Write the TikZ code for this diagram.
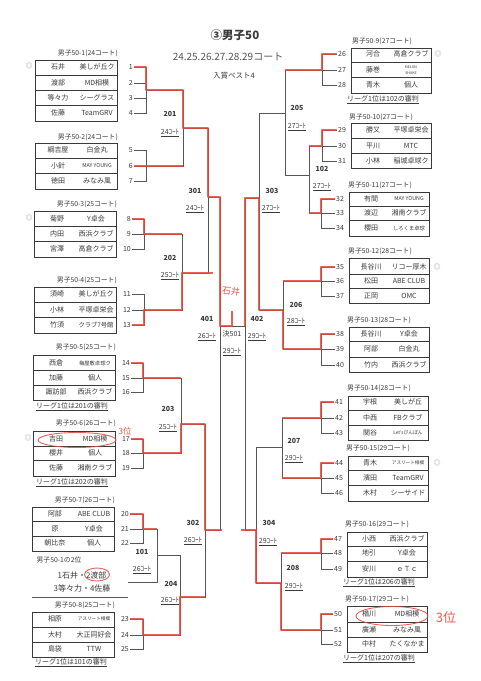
\documentclass[tikz,border=0pt]{standalone}
\usepackage{fontspec}
\setmainfont{Noto Sans CJK JP}
\usetikzlibrary{calc}
\definecolor{ink}{HTML}{3A3A3A}
\definecolor{lnc}{HTML}{555555}
\definecolor{pen}{HTML}{E5483A}
\definecolor{faint}{HTML}{9A9A9A}
\tikzset{
  lnk/.style={draw=lnc, line width=0.8pt},
  boxl/.style={draw=ink, line width=0.9pt},
  rowsep/.style={draw=ink, line width=0.6pt},
  nm/.style={font=\fontsize{7}{8}\selectfont, text=ink, inner sep=0pt},
  cl/.style={font=\fontsize{7}{8}\selectfont, text=ink, inner sep=0pt},
  numL/.style={font=\fontsize{7}{8}\selectfont, text=ink, anchor=east, inner sep=1pt},
  numR/.style={font=\fontsize{7}{8}\selectfont, text=ink, anchor=west, inner sep=1pt},
  glabL/.style={font=\fontsize{6.8}{8}\selectfont, text=ink, inner sep=0pt, anchor=east},
  glabR/.style={font=\fontsize{6.8}{8}\selectfont, text=ink, inner sep=0pt, anchor=west},
  mlab/.style={font=\bfseries\fontsize{7}{8}\selectfont, text=ink, inner sep=0pt},
  court/.style={font=\fontsize{7}{8}\selectfont, text=ink, inner sep=0pt},
  capt/.style={font=\fontsize{7}{8}\selectfont, text=ink, inner sep=0pt},
  dmark/.style={font=\fontsize{7}{8}\selectfont, text=faint, inner sep=0pt},
  win/.style={draw=pen, line width=1.2pt, opacity=0.85, line join=round},
  penc/.style={draw=pen, line width=0.9pt, opacity=0.85},
  pent/.style={text=pen, inner sep=0pt, opacity=0.9}
}
\newcommand\pRowL[6]{%
  \node[nm] (L#1n) at ({#5+23},#2) {#3};
  \node[cl] (L#1c) at ({#5+62},#2) {#4};
  \node[numL] (L#1) at (#6,#2) {#1};}
\newcommand\pRowR[6]{%
  \node[nm] (R#1n) at ({#5+22},#2) {#3};
  \node[cl] (R#1c) at ({#5+60},#2) {#4};
  \node[numR] (R#1) at (#6,#2) {#1};}
\newcommand\ct[1]{\underline{#1ｺｰﾄ}}
\begin{document}
\begin{tikzpicture}[x=1pt,y=-1pt]
\fill[white] (0,0) rectangle (480,681);
\path[use as bounding box] (0,0) rectangle (480,681);

% ---------- titles
\node[font=\bfseries\fontsize{11.5}{13}\selectfont, text=ink] (title) at (235,35) {③男子50};
\node[font=\fontsize{10}{12}\selectfont, text=lnc] (sub) at (228,57) {24.25.26.27.28.29コート};
\node[font=\fontsize{7.5}{9}\selectfont, text=ink] (best) at (234,76) {入賞ベスト4};

% ---------- left groups
\node[glabL] (G1lab) at (118,53) {男子50-1(24コート)};
\draw[boxl] (35,60) rectangle (117,121);
\draw[rowsep] (35,75) -- (117,75) (35,90.5) -- (117,90.5) (35,105.5) -- (117,105.5);
\pRowL{1}{67}{石井}{美しが丘ク}{35}{134}
\pRowL{2}{83}{渡部}{MD相模}{35}{134}
\pRowL{3}{98}{等々力}{シーグラス}{35}{134}
\pRowL{4}{113}{佐藤}{TeamGRV}{35}{134}
\node[dmark] (d1) at (29,66) {◎};

\node[glabL] (G2lab) at (118,137) {男子50-2(24コート)};
\draw[boxl] (35,143) rectangle (117,189);
\draw[rowsep] (35,158) -- (117,158) (35,173.5) -- (117,173.5);
\pRowL{5}{150}{綱吉屋}{白金丸}{35}{134}
\pRowL{6}{166}{小針}{{\fontsize{5.3}{6}\selectfont MAY YOUNG}}{35}{134}
\pRowL{7}{181}{徳田}{みなみ風}{35}{134}

\node[glabL] (G3lab) at (117,204) {男子50-3(25コート)};
\draw[boxl] (34,211) rectangle (116,257);
\draw[rowsep] (34,226.5) -- (116,226.5) (34,241.5) -- (116,241.5);
\pRowL{8}{219}{菊野}{Y卓会}{34}{132}
\pRowL{9}{234}{内田}{西浜クラブ}{34}{132}
\pRowL{10}{249}{宮澤}{高倉クラブ}{34}{132}
\node[dmark] (d3) at (29,218) {◎};

\node[glabL] (G4lab) at (117,280) {男子50-4(25コート)};
\draw[boxl] (34,287) rectangle (116,333);
\draw[rowsep] (34,302) -- (116,302) (34,317.5) -- (116,317.5);
\pRowL{11}{294}{須崎}{美しが丘ク}{34}{132}
\pRowL{12}{310}{小林}{平塚卓栄会}{34}{132}
\pRowL{13}{325}{竹須}{{\fontsize{6.3}{7}\selectfont クラブ7号館}}{34}{132}

\node[glabL] (G5lab) at (116,347) {男子50-5(25コート)};
\draw[boxl] (33,355) rectangle (115,400);
\draw[rowsep] (33,370.5) -- (115,370.5) (33,385) -- (115,385);
\pRowL{14}{363}{西倉}{{\fontsize{5.3}{6}\selectfont 梅屋敷卓球ク}}{33}{131}
\pRowL{15}{378}{加藤}{個人}{33}{131}
\pRowL{16}{392}{諏訪部}{西浜クラブ}{33}{131}
\node[capt] (c5) at (72,407) {\underline{リーグ1位は201の審判}};

\node[glabL] (G6lab) at (116,423) {男子50-6(26コート)};
\draw[boxl] (33,431) rectangle (115,476);
\draw[rowsep] (33,446) -- (115,446) (33,460.5) -- (115,460.5);
\pRowL{17}{439}{吉田}{MD相模}{33}{131}
\pRowL{18}{453}{櫻井}{個人}{33}{131}
\pRowL{19}{468}{佐藤}{湘南クラブ}{33}{131}
\node[capt] (c6) at (72,483) {\underline{リーグ1位は202の審判}};
\node[dmark] (d6) at (28,438) {◎};

\node[glabL] (G7lab) at (115,500) {男子50-7(26コート)};
\draw[boxl] (32,507) rectangle (114,551);
\draw[rowsep] (32,521.5) -- (114,521.5) (32,536) -- (114,536);
\pRowL{20}{514}{阿部}{ABE CLUB}{32}{130}
\pRowL{21}{529}{原}{Y卓会}{32}{130}
\pRowL{22}{543}{朝比奈}{個人}{32}{130}

\node[capt, font=\fontsize{6.8}{8}\selectfont] (sec1) at (59,560) {男子50-1の2位};
\node[capt, font=\fontsize{8}{9}\selectfont] (sec2) at (82,575) {1石井・2渡部};
\node[capt, font=\fontsize{8}{9}\selectfont] (sec3) at (82,588) {3等々力・4佐藤};
\draw[lnk] (32,597) -- (128,597);

\node[glabL] (G8lab) at (115,605) {男子50-8(25コート)};
\draw[boxl] (32,612) rectangle (114,657);
\draw[rowsep] (32,627) -- (114,627) (32,642) -- (114,642);
\pRowL{23}{619}{相原}{{\fontsize{4.6}{5}\selectfont アスリート相模}}{32}{130}
\pRowL{24}{635}{大村}{大正同好会}{32}{130}
\pRowL{25}{649}{島袋}{TTW}{32}{130}
\node[capt] (c8) at (71,663) {\underline{リーグ1位は101の審判}};

% ---------- right groups
\node[glabR] (G9lab) at (352,41) {男子50-9(27コート)};
\draw[boxl] (351,48) rectangle (431,93);
\draw[rowsep] (351,62) -- (431,62) (351,77.5) -- (431,77.5);
\pRowR{26}{54}{河合}{高倉クラブ}{351}{337}
\pRowR{27}{70}{藤巻}{{\fontsize{3.6}{6.5}\selectfont\begin{tabular}{@{}c@{}}MELON\\[-1pt]SHAKE\end{tabular}}}{351}{337}
\pRowR{28}{85}{青木}{個人}{351}{337}
\node[dmark] (d9) at (438,54) {◎};
\node[capt] (c9) at (383,100) {\underline{リーグ1位は102の審判}};

\node[glabR] (G10lab) at (349,117) {男子50-10(27コート)};
\draw[boxl] (351,123) rectangle (431,168);
\draw[rowsep] (351,138) -- (431,138) (351,153.5) -- (431,153.5);
\pRowR{29}{130}{勝又}{平塚卓栄会}{351}{337}
\pRowR{30}{146}{平川}{MTC}{351}{337}
\pRowR{31}{161}{小林}{稲城卓球ク}{351}{337}

\node[glabR] (G11lab) at (348,185) {男子50-11(27コート)};
\draw[boxl] (349,192) rectangle (429,236);
\draw[rowsep] (349,206) -- (429,206) (349,220.5) -- (429,220.5);
\pRowR{32}{199}{有間}{{\fontsize{5.3}{6}\selectfont MAY YOUNG}}{349}{335}
\pRowR{33}{213}{渡辺}{湘南クラブ}{349}{335}
\pRowR{34}{228}{櫻田}{{\fontsize{5.3}{6}\selectfont しろくま卓球}}{349}{335}

\node[glabR] (G12lab) at (348,251) {男子50-12(28コート)};
\draw[boxl] (349,258) rectangle (429,303);
\draw[rowsep] (349,274) -- (429,274) (349,288.5) -- (429,288.5);
\pRowR{35}{267}{長谷川}{リコー厚木}{349}{335}
\pRowR{36}{281}{松田}{ABE CLUB}{349}{335}
\pRowR{37}{296}{正岡}{OMC}{349}{335}
\node[dmark] (d12) at (437,267) {◎};

\node[glabR] (G13lab) at (347,320) {男子50-13(28コート)};
\draw[boxl] (349,327) rectangle (429,372);
\draw[rowsep] (349,341.5) -- (429,341.5) (349,357) -- (429,357);
\pRowR{38}{334}{長谷川}{Y卓会}{349}{335}
\pRowR{39}{349}{阿部}{白金丸}{349}{335}
\pRowR{40}{365}{竹内}{西浜クラブ}{349}{335}

\node[glabR] (G14lab) at (347,388) {男子50-14(28コート)};
\draw[boxl] (348,396) rectangle (428,440);
\draw[rowsep] (348,410) -- (428,410) (348,425.5) -- (428,425.5);
\pRowR{41}{402}{宇根}{美しが丘}{348}{334}
\pRowR{42}{418}{中西}{FBクラブ}{348}{334}
\pRowR{43}{433}{関谷}{{\fontsize{4.8}{6}\selectfont Let'sぴんぽん}}{348}{334}

\node[glabR] (G15lab) at (346,448) {男子50-15(29コート)};
\draw[boxl] (348,456) rectangle (428,501);
\draw[rowsep] (348,470.5) -- (428,470.5) (348,485.5) -- (428,485.5);
\pRowR{44}{463}{青木}{{\fontsize{4.6}{5}\selectfont アスリート相模}}{348}{334}
\pRowR{45}{478}{濱田}{TeamGRV}{348}{334}
\pRowR{46}{493}{木村}{シーサイド}{348}{334}
\node[dmark] (d15) at (437,463) {◎};

\node[glabR] (G16lab) at (345,524) {男子50-16(29コート)};
\draw[boxl] (347,532) rectangle (427,577);
\draw[rowsep] (347,546) -- (427,546) (347,561) -- (427,561);
\pRowR{47}{539}{小西}{西浜クラブ}{347}{333}
\pRowR{48}{553}{地引}{Y卓会}{347}{333}
\pRowR{49}{569}{安川}{ｅＴｃ}{347}{333}
\node[capt] (c16) at (379,583) {\underline{リーグ1位は206の審判}};

\node[glabR] (G17lab) at (345,599) {男子50-17(29コート)};
\draw[boxl] (347,606) rectangle (427,652);
\draw[rowsep] (347,622) -- (427,622) (347,637) -- (427,637);
\pRowR{50}{614}{楢川}{MD相模}{347}{333}
\pRowR{51}{630}{廣瀬}{みなみ風}{347}{333}
\pRowR{52}{644}{中村}{たくなかま}{347}{333}
\node[capt] (c17) at (379,659) {\underline{リーグ1位は207の審判}};

% ---------- bracket coordinates
\coordinate (G1) at (146,90);  \coordinate (G2) at (146,166);
\coordinate (G3) at (144,234); \coordinate (G4) at (144,310);
\coordinate (G5) at (143,378); \coordinate (G6) at (143,453);
\coordinate (G7) at (143,529); \coordinate (G8) at (143,635);
\coordinate (S2) at (128,582);
\coordinate (M201) at (183,128); \coordinate (M202) at (182,273);
\coordinate (M301) at (208,197); \coordinate (M203) at (181,424);
\coordinate (M101) at (157,555); \coordinate (M204) at (180,597);
\coordinate (M302) at (205,530); \coordinate (M401) at (220,326);
\coordinate (G9) at (322,70);   \coordinate (G10) at (322,146);
\coordinate (G11) at (321,213); \coordinate (G12) at (321,281);
\coordinate (G13) at (321,349); \coordinate (G14) at (321,418);
\coordinate (G15) at (321,478); \coordinate (G16) at (321,553);
\coordinate (G17) at (321,630);
\coordinate (M102) at (309,175); \coordinate (M205) at (285,113);
\coordinate (M206) at (283,310); \coordinate (M303) at (259,198);
\coordinate (M207) at (282,447); \coordinate (M208) at (281,583);
\coordinate (M304) at (256,530); \coordinate (M402) at (245,326);
\coordinate (champ) at (232,311);

% ---------- first round (league) brackets
\draw[lnk] (L1.east) -- (L1.east -| G1) -- (L4.east -| G1) -- (L4.east);
\draw[lnk] (L2.east) -- (L2.east -| G1) (L3.east) -- (L3.east -| G1);
\draw[lnk] (L5.east) -- (L5.east -| G2) -- (L7.east -| G2) -- (L7.east) (L6.east) -- (L6.east -| G2);
\draw[lnk] (L8.east) -- (L8.east -| G3) -- (L10.east -| G3) -- (L10.east) (L9.east) -- (L9.east -| G3);
\draw[lnk] (L11.east) -- (L11.east -| G4) -- (L13.east -| G4) -- (L13.east) (L12.east) -- (L12.east -| G4);
\draw[lnk] (L14.east) -- (L14.east -| G5) -- (L16.east -| G5) -- (L16.east) (L15.east) -- (L15.east -| G5);
\draw[lnk] (L17.east) -- (L17.east -| G6) -- (L19.east -| G6) -- (L19.east) (L18.east) -- (L18.east -| G6);
\draw[lnk] (L20.east) -- (L20.east -| G7) -- (L22.east -| G7) -- (L22.east) (L21.east) -- (L21.east -| G7);
\draw[lnk] (L23.east) -- (L23.east -| G8) -- (L25.east -| G8) -- (L25.east) (L24.east) -- (L24.east -| G8);

\draw[lnk] (R26.west) -- (R26.west -| G9) -- (R28.west -| G9) -- (R28.west) (R27.west) -- (R27.west -| G9);
\draw[lnk] (R29.west) -- (R29.west -| G10) -- (R31.west -| G10) -- (R31.west) (R30.west) -- (R30.west -| G10);
\draw[lnk] (R32.west) -- (R32.west -| G11) -- (R34.west -| G11) -- (R34.west) (R33.west) -- (R33.west -| G11);
\draw[lnk] (R35.west) -- (R35.west -| G12) -- (R37.west -| G12) -- (R37.west) (R36.west) -- (R36.west -| G12);
\draw[lnk] (R38.west) -- (R38.west -| G13) -- (R40.west -| G13) -- (R40.west) (R39.west) -- (R39.west -| G13);
\draw[lnk] (R41.west) -- (R41.west -| G14) -- (R43.west -| G14) -- (R43.west) (R42.west) -- (R42.west -| G14);
\draw[lnk] (R44.west) -- (R44.west -| G15) -- (R46.west -| G15) -- (R46.west) (R45.west) -- (R45.west -| G15);
\draw[lnk] (R47.west) -- (R47.west -| G16) -- (R49.west -| G16) -- (R49.west) (R48.west) -- (R48.west -| G16);
\draw[lnk] (R50.west) -- (R50.west -| G17) -- (R52.west -| G17) -- (R52.west) (R51.west) -- (R51.west -| G17);

% ---------- tournament brackets
\draw[lnk] (G1) -- (G1 -| M201) -- (G2 -| M201) -- (G2);
\draw[lnk] (G3) -- (G3 -| M202) -- (G4 -| M202) -- (G4);
\draw[lnk] (M201) -- (M201 -| M301) -- (M202 -| M301) -- (M202);
\draw[lnk] (G5) -- (G5 -| M203) -- (G6 -| M203) -- (G6);
\draw[lnk] (G7) -- (G7 -| M101) -- (S2 -| M101) -- (S2);
\draw[lnk] (M101) -- (M101 -| M204) -- (G8 -| M204) -- (G8);
\draw[lnk] (M203) -- (M203 -| M302) -- (M204 -| M302) -- (M204);
\draw[lnk] (M301) -- (M301 -| M401) -- (M302 -| M401) -- (M302);
\draw[lnk] (G10) -- (G10 -| M102) -- (G11 -| M102) -- (G11);
\draw[lnk] (G9) -- (G9 -| M205) -- (M102 -| M205) -- (M102);
\draw[lnk] (G12) -- (G12 -| M206) -- (G13 -| M206) -- (G13);
\draw[lnk] (M205) -- (M205 -| M303) -- (M206 -| M303) -- (M206);
\draw[lnk] (G14) -- (G14 -| M207) -- (G15 -| M207) -- (G15);
\draw[lnk] (G16) -- (G16 -| M208) -- (G17 -| M208) -- (G17);
\draw[lnk] (M207) -- (M207 -| M304) -- (M208 -| M304) -- (M208);
\draw[lnk] (M303) -- (M303 -| M402) -- (M304 -| M402) -- (M304);
\draw[lnk] (M401) -- (M402);

% ---------- match labels
\node[mlab] (t201) at (170,114) {201}; \node[court] (k201) at (170,133) {\ct{24}};
\node[mlab] (t202) at (170,258) {202}; \node[court] (k202) at (170,276) {\ct{25}};
\node[mlab] (t301) at (195,191) {301}; \node[court] (k301) at (195,209) {\ct{24}};
\node[mlab] (t203) at (168,409) {203}; \node[court] (k203) at (168,428) {\ct{25}};
\node[mlab] (t101) at (142,552) {101}; \node[court] (k101) at (142,570) {\ct{26}};
\node[mlab] (t204) at (171,584) {204}; \node[court] (k204) at (170,601) {\ct{26}};
\node[mlab] (t302) at (193,523) {302}; \node[court] (k302) at (193,541) {\ct{26}};
\node[mlab] (t401) at (207,319) {401}; \node[court] (k401) at (207,337) {\ct{26}};
\node[mlab, font=\fontsize{7}{8}\selectfont] (t501) at (232,334) {決501}; \node[court] (k501) at (232,352) {\ct{29}};
\node[mlab] (t402) at (257,319) {402}; \node[court] (k402) at (257,337) {\ct{29}};
\node[mlab] (t205) at (297,108) {205}; \node[court] (k205) at (297,127) {\ct{27}};
\node[mlab] (t102) at (322,169) {102}; \node[court] (k102) at (322,187) {\ct{27}};
\node[mlab] (t303) at (272,191) {303}; \node[court] (k303) at (271,209) {\ct{27}};
\node[mlab] (t206) at (296,305) {206}; \node[court] (k206) at (296,322) {\ct{28}};
\node[mlab] (t207) at (294,441) {207}; \node[court] (k207) at (294,459) {\ct{29}};
\node[mlab] (t304) at (269,523) {304}; \node[court] (k304) at (268,542) {\ct{29}};
\node[mlab] (t208) at (293,568) {208}; \node[court] (k208) at (294,587) {\ct{29}};

% ---------- red annotations (winners)
\draw[win] (L1.east) -- (L1.east -| G1) -- (G1) -- (G1 -| M201) -- (M201) -- (M201 -| M301) -- (M301) -- (M301 -| M401) -- (M401) -- (M401 -| champ) -- (champ);
\draw[win] (L6.east) -- (G2 -| M201);
\draw[win] (L8.east) -- (L8.east -| G3) -- (G3) -- (G3 -| M202);
\draw[win] (L13.east) -- (L13.east -| G4) -- (G4) -- (G4 -| M202) -- (M202) -- ([xshift=5pt]M202 -| M301);
\draw[win] (L14.east) -- (L14.east -| G5) -- (G5) -- (G5 -| M203);
\draw[win] (L17.east) -- (L17.east -| G6) -- (G6) -- (G6 -| M203) -- (M203) -- (M203 -| M302) -- (M302) -- ([xshift=2pt]M302 -| M401);
\draw[win] (L20.east) -- (L20.east -| G7) -- (G7) -- (G7 -| M101);
\draw[win] (L23.east) -- (L23.east -| G8) -- (G8) -- (G8 -| M204) -- (M204) -- (M204 -| M302);
\draw[win] (R26.west) -- (R26.west -| G9) -- (G9) -- (G9 -| M205);
\draw[win] (R29.west) -- (R29.west -| G10) -- (G10) -- (G10 -| M102);
\draw[win] (R32.west) -- (R32.west -| G11) -- (G11) -- (G11 -| M102);
\draw[win] (R35.west) -- (R35.west -| G12) -- (G12) -- (G12 -| M206);
\draw[win] (R38.west) -- (R38.west -| G13) -- (G13) -- (G13 -| M206) -- (M206) -- (M206 -| M303) -- (M303) -- (M303 -| M402) -- (M402);
\draw[win] (R41.west) -- (R41.west -| G14) -- (G14) -- (G14 -| M207);
\draw[win] (R44.west) -- (R44.west -| G15) -- (G15) -- (G15 -| M207);
\draw[win] (R47.west) -- (R47.west -| G16) -- (G16) -- (G16 -| M208);
\draw[win] (R50.west) -- (R50.west -| G17) -- (G17) -- (G17 -| M208) -- (M208) -- (M208 -| M304) -- (M304) -- ([xshift=-4pt]M304 -| M402);

\node[pent, font=\fontsize{9}{10}\selectfont, rotate=-8] (champname) at (231,291) {石井};
\node[pent, font=\fontsize{8.5}{9}\selectfont] (third1) at (125,431) {3位};
\node[pent, font=\fontsize{13}{14}\selectfont] (third2) at (446,618) {3位};
\draw[penc] (77,440) ellipse [x radius=39, y radius=7.5];
\draw[penc] (392,616) ellipse [x radius=36, y radius=9.5];
\draw[penc] (97,574.5) ellipse [x radius=12.5, y radius=6.5];
\end{tikzpicture}
\end{document}
